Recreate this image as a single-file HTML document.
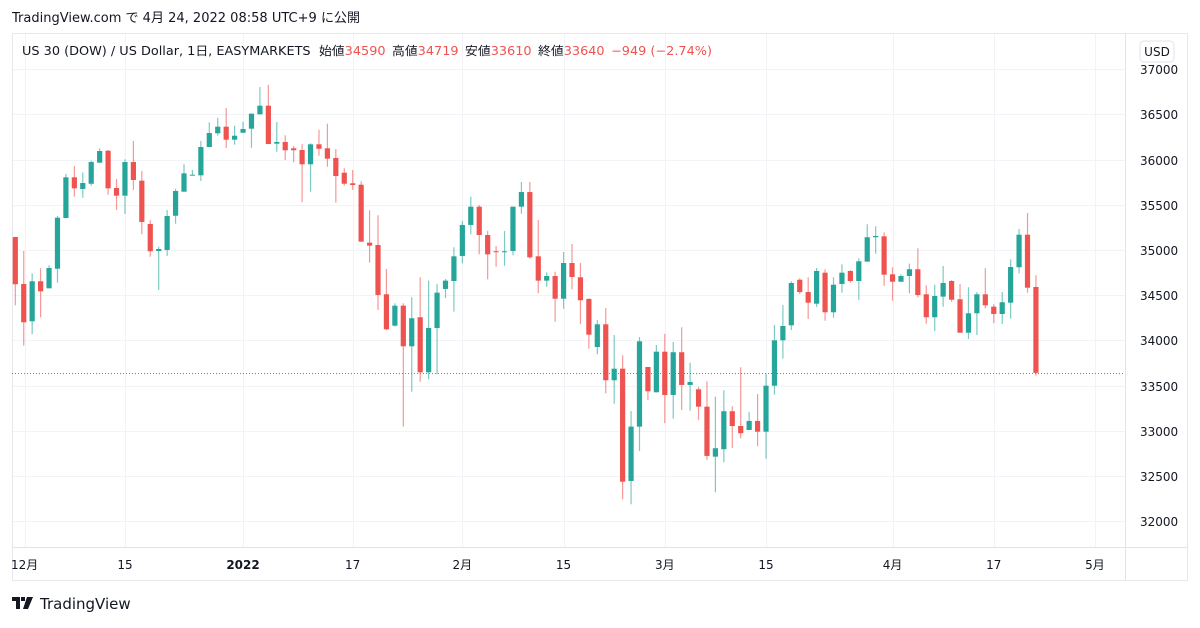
<!DOCTYPE html>
<html><head><meta charset="utf-8">
<style>
body{margin:0;background:#fff;width:1200px;height:624px;overflow:hidden;font-family:"DejaVu Sans","Noto Sans CJK JP",sans-serif;}
svg text{font-family:"DejaVu Sans","Noto Sans CJK JP",sans-serif;}
</style></head><body>
<svg id="chart" width="1200" height="624" xmlns="http://www.w3.org/2000/svg">
<text x="12" y="22" font-size="13" fill="#131722" textLength="348" lengthAdjust="spacingAndGlyphs">TradingView.com で 4月 24, 2022 08:58 UTC+9 に公開</text>
<rect x="12.5" y="33.5" width="1175" height="547" fill="none" stroke="#e6e8ee"/>
<g id="grid"></g>
<line x1="1125.5" y1="33" x2="1125.5" y2="581" stroke="#e0e3eb"/>
<line x1="12" y1="547.5" x2="1188" y2="547.5" stroke="#e0e3eb"/>
<g id="ylabels"></g>
<g id="xlabels"></g>
<g id="candles"></g>
<line id="lastline" x1="12" x2="1125" stroke="#ef5350" stroke-width="1" stroke-dasharray="1,2"/>
<g>
<rect x="1140" y="41" width="34" height="21" rx="4" fill="#fff" stroke="#e0e3eb"/>
<text x="1157" y="56" font-size="12" text-anchor="middle" fill="#131722">USD</text>
</g>
<text x="22" y="55" font-size="12" fill="#131722" textLength="690" lengthAdjust="spacingAndGlyphs">US 30 (DOW) / US Dollar, 1日, EASYMARKETS <tspan dx="4">始値</tspan><tspan fill="#ef5350">34590</tspan><tspan dx="6">高値</tspan><tspan fill="#ef5350">34719</tspan><tspan dx="6">安値</tspan><tspan fill="#ef5350">33610</tspan><tspan dx="6">終値</tspan><tspan fill="#ef5350">33640</tspan><tspan dx="6" fill="#ef5350">−949 (−2.74%)</tspan></text>
<g>
<path d="M12 597h8v12h-4v-8h-4z M21 597h4v4h-4z M27 597h6l-5 12h-5z" fill="#131722"/>
<text x="40" y="609" font-size="15" fill="#131722">TradingView</text>
</g>
</svg>
<script>
const opens=[35143,34623,34210,34653,34575,34792,35353,35803,35674,35732,35965,36097,35685,35600,35972,35766,35287,34988,34999,35378,35644,35825,35825,36138,36290,36363,36219,36296,36341,36500,36595,36175,36194,36124,36105,35947,36168,36124,36017,35854,35737,35721,35080,35054,34509,34162,34383,33934,34255,33646,34136,34568,34656,34933,35276,35478,35165,34985,34974,34988,35478,35640,34929,34660,34711,34460,34855,34697,34457,33926,34177,33558,33686,32444,33045,33705,33425,33874,33395,33868,33506,33458,33266,32713,32795,33215,33052,33008,33108,32989,33498,34000,34166,34670,34534,34405,34748,34310,34623,34767,34656,34870,35140,35150,34730,34648,34711,34786,34509,34255,34483,34656,34454,34084,34299,34509,34372,34291,34416,34808,35168,34590];
const highs=[35143,34988,34741,34797,34830,35375,35840,35928,35858,35987,36124,36105,35784,36002,36205,35873,35331,35035,35441,35677,35947,35884,36205,36411,36462,36570,36374,36418,36507,36802,36827,36415,36268,36149,36171,36179,36330,36396,36116,35903,35884,35759,35438,35383,34789,34410,34410,34476,34697,34660,34623,34678,35029,35320,35589,35497,35213,35043,35209,35478,35751,35751,35331,34752,34759,34977,35065,34855,34465,34222,34358,34059,33834,33218,34037,33705,33948,34073,33982,34144,33753,33484,33547,33377,33447,33270,33702,33207,33406,33628,34169,34391,34653,34686,34697,34800,34786,34697,34841,34774,34907,35283,35261,35195,34808,34730,34848,35018,34609,34615,34822,34667,34623,34587,34534,34797,34398,34534,34896,35231,35408,34719];
const lows=[34387,33941,34067,34255,34575,34637,35353,35589,35577,35710,35965,35611,35441,35397,35663,35173,34925,34557,34933,35290,35644,35825,35762,36138,36263,36127,36164,36296,36130,36500,36171,36086,35994,35969,35527,35644,36042,35920,35522,35710,35663,35091,34859,34335,34111,34151,33045,33432,33542,33569,33624,34468,34317,34852,35173,34951,34675,34814,34825,34940,35400,34903,34520,34593,34206,34350,34564,34181,33907,33845,33414,33299,32242,32186,32776,33337,33425,33082,33133,33229,33222,33119,32676,32319,32651,32809,32916,33008,32828,32691,33399,33797,34114,34512,34236,34369,34217,34250,34527,34637,34446,34870,34958,34601,34438,34648,34520,34476,34184,34103,34372,34427,34084,34015,34059,34354,34188,34181,34239,34741,34527,33610];
const closes=[34620,34199,34653,34542,34800,35356,35803,35681,35740,35972,36094,35681,35600,35972,35773,35309,34985,35010,35375,35652,35847,35832,36138,36293,36363,36219,36263,36337,36507,36595,36171,36194,36102,36102,35947,36168,36119,36009,35817,35732,35718,35091,35047,34501,34122,34383,33934,34244,33646,34136,34527,34660,34929,35276,35478,35165,34951,34974,34985,35478,35640,34918,34660,34711,34460,34855,34700,34443,34062,34177,33558,33686,32436,33045,33989,33436,33874,33395,33868,33506,33539,33266,32721,32806,33215,33052,32972,33108,32989,33498,34000,34158,34634,34534,34416,34767,34310,34615,34748,34656,34874,35140,35154,34726,34648,34711,34786,34501,34255,34490,34634,34449,34084,34299,34509,34387,34291,34421,34811,35168,34582,33640];
const priceTicks=[37000,36500,36000,35500,35000,34500,34000,33500,33000,32500,32000];
const timeLabels=["12月","15","2022","17","2月","15","3月","15","4月","17","5月"];
const timeLabelPos=[1.1,13,27,40,53,65,77,89,104,116,128];
const lastPrice=33640;

const NS="http://www.w3.org/2000/svg";
function yOf(p){return 114.3+(36500-p)*0.0904;}
function xOf(i){return 15.3+i*8.435;}
function mk(tag,attrs,parent){const e=document.createElementNS(NS,tag);for(const k in attrs)e.setAttribute(k,attrs[k]);parent.appendChild(e);return e;}
const grid=document.getElementById('grid'),yl=document.getElementById('ylabels'),xl=document.getElementById('xlabels'),cg=document.getElementById('candles');
priceTicks.forEach(p=>{
  const y=Math.round(yOf(p))+0.5;
  const l=mk('line',{x1:13,x2:1125,y1:y,y2:y,stroke:'#f2f3f6'},grid);
  
  
  const t=mk('text',{x:1140,y:y+4.5,'font-size':12,fill:'#131722'},yl);
  
  
  t.textContent=p;
});
timeLabels.forEach((s,i)=>{
  const x=xOf(timeLabelPos[i]);
  const l=mk('line',{x1:Math.round(x)+0.5,x2:Math.round(x)+0.5,y1:34,y2:547,stroke:'#f2f3f6'},grid);
  
  
  const t=mk('text',{x:x,y:569,'font-size':12,fill:'#131722','text-anchor':'middle','font-weight':s==='2022'?'bold':'normal'},xl);
  
  
  t.textContent=s;
});
opens.forEach((o,i)=>{
  const c=closes[i],h=highs[i],lo=lows[i];
  const up=c>=o, col=up?'#26a69a':'#ef5350', wcol=up?'rgba(38,166,154,0.6)':'rgba(239,83,80,0.6)';
  const x=xOf(i);
  const g=mk('g',{},cg);
  
  
  mk('line',{x1:x,x2:x,y1:yOf(h),y2:yOf(lo),stroke:wcol,'stroke-width':1.2},g);
  const top=yOf(Math.max(o,c)),bot=yOf(Math.min(o,c));
  mk('rect',{x:x-2.6,y:top,width:5.2,height:Math.max(1,bot-top),fill:col},g);
});
const ly=Math.round(yOf(lastPrice))+0.5;
const ll=document.getElementById('lastline');ll.setAttribute('y1',ly);ll.setAttribute('y2',ly);
</script>
</body></html>
